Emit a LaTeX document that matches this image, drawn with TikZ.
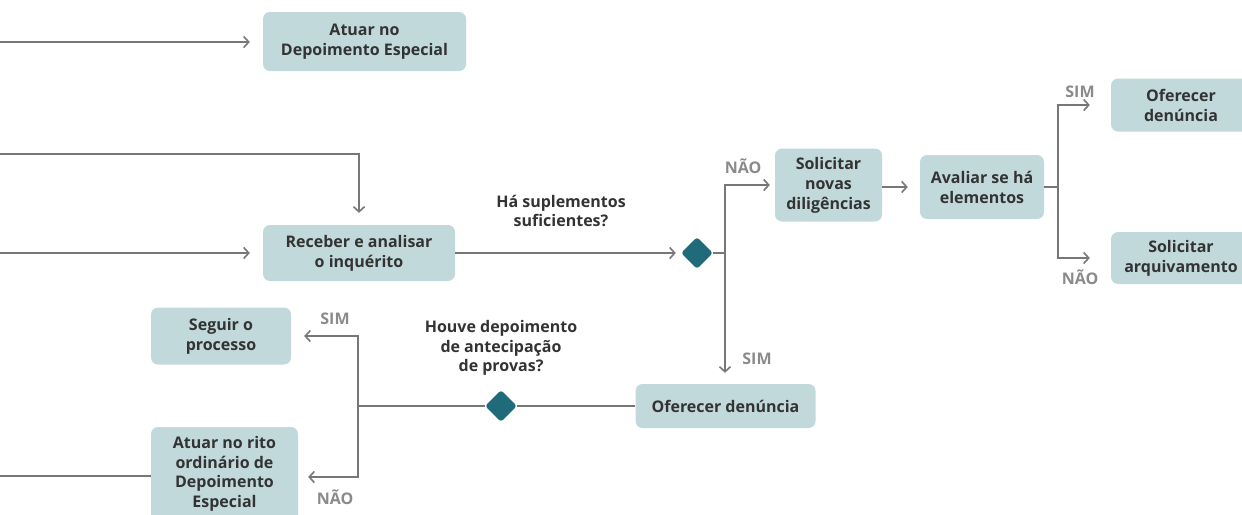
\documentclass[tikz,border=0pt]{standalone}
\usepackage{fontspec}
\setmainfont{Open Sans}
\usetikzlibrary{arrows.meta,shapes.geometric}
\definecolor{boxfill}{HTML}{C1D9DB}
\definecolor{dia}{HTML}{1F6B7A}
\definecolor{ln}{HTML}{777777}
\definecolor{txt}{HTML}{333333}
\definecolor{lbl}{HTML}{8A8A8A}
\tikzset{
  box/.style={fill=boxfill, rounded corners=7pt, align=center, text=txt,
    font=\fontsize{16}{20}\selectfont\bfseries, inner sep=0pt},
  dec/.style={diamond, fill=dia, rounded corners=3pt, minimum size=32pt, inner sep=0pt},
  ln/.style={draw=ln, line width=2pt},
  arr/.style={ln, -{Straight Barb[length=5pt,width=11pt,line width=1.6pt]}},
  lab/.style={text=lbl, font=\fontsize{16}{18}\selectfont\bfseries},
  qst/.style={text=txt, align=center, font=\fontsize{16}{19.5}\selectfont\bfseries},
}
\begin{document}
\begin{tikzpicture}[x=1pt,y=-1pt]
\useasboundingbox (0,0) rectangle (1242,514);
% boxes
\node[box, minimum width=203pt, minimum height=59pt] (b1) at (364.5,41.5) {Atuar no\\Depoimento Especial};
\node[box, minimum width=192pt, minimum height=56pt] (b2) at (359,253) {Receber e analisar\\o inquérito};
\node[box, minimum width=107pt, minimum height=73pt] (b3) at (828.5,185) {Solicitar\\novas\\diligências};
\node[box, minimum width=124pt, minimum height=64pt] (b4) at (982,187) {Avaliar se há\\elementos};
\node[box, minimum width=140pt, minimum height=53pt] (b5) at (1181,105) {Oferecer\\denúncia};
\node[box, minimum width=140pt, minimum height=52pt] (b6) at (1181,258) {Solicitar\\arquivamento};
\node[box, minimum width=180pt, minimum height=44pt] (b7) at (725.5,406) {Oferecer denúncia};
\node[box, minimum width=140pt, minimum height=57pt] (b8) at (221,336) {Seguir o\\processo};
\node[box, minimum width=147pt, minimum height=100pt] (b9) at (224.5,477) {};
\node[qst, anchor=center] (b9t) at (224.5,474) {Atuar no rito\\ordinário de\\Depoimento\\Especial};
% decisions
\node[dec] (d1) at (697,253) {};
\node[dec] (d2) at (501,406) {};
% coordinates
\coordinate (in1) at (0,42);
\coordinate (in2) at (0,154);
\coordinate (in3) at (0,253);
\coordinate (in4) at (0,476);
\coordinate (j1) at (725,253);
\coordinate (j2) at (1058,187);
\coordinate (j3) at (358,406);
% connectors
\draw[arr, shorten >=13pt] (in1) -- (b1.west |- in1);
\draw[arr, shorten >=12pt] (in2) -| (b2.north);
\draw[arr, shorten >=13pt] (in3) -- (b2.west);
\draw[arr, shorten >=5pt] (b2.east) -- (d1.west);
\draw[ln] (d1.east) -- (j1);
\draw[arr, shorten >=5pt] (j1) |- (b3.west);
\draw[arr, shorten >=11pt] (j1) -- (j1 |- b7.north);
\draw[arr, shorten >=12pt] (b3.east |- j2) -- (b4.west |- j2);
\draw[ln] (b4.east |- j2) -- (j2);
\draw[arr, shorten >=21pt] (j2) |- (b5.west);
\draw[arr, shorten >=21pt] (j2) |- (b6.west);
\draw[ln] (b7.west) -- (d2.east);
\draw[ln] (d2.west) -- (j3);
\draw[arr, shorten >=13pt] (j3) |- (b8.east);
\draw[arr, shorten >=10pt] (j3) |- (b9.east);
\draw[ln] (in4) -- (b9.west |- in4);
% labels
\node[lab] (l1) at (743,166) {NÃO};
\node[lab] (l2) at (757,359) {SIM};
\node[lab] (l3) at (1080,92) {SIM};
\node[lab] (l4) at (1080,277) {NÃO};
\node[lab] (l5) at (335,319) {SIM};
\node[lab] (l6) at (335,497) {NÃO};
\node[qst] (q1) at (561,211) {Há suplementos\\suficientes?};
\node[qst] (q2) at (501,348) {Houve depoimento\\de antecipação\\de provas?};
\end{tikzpicture}
\end{document}
